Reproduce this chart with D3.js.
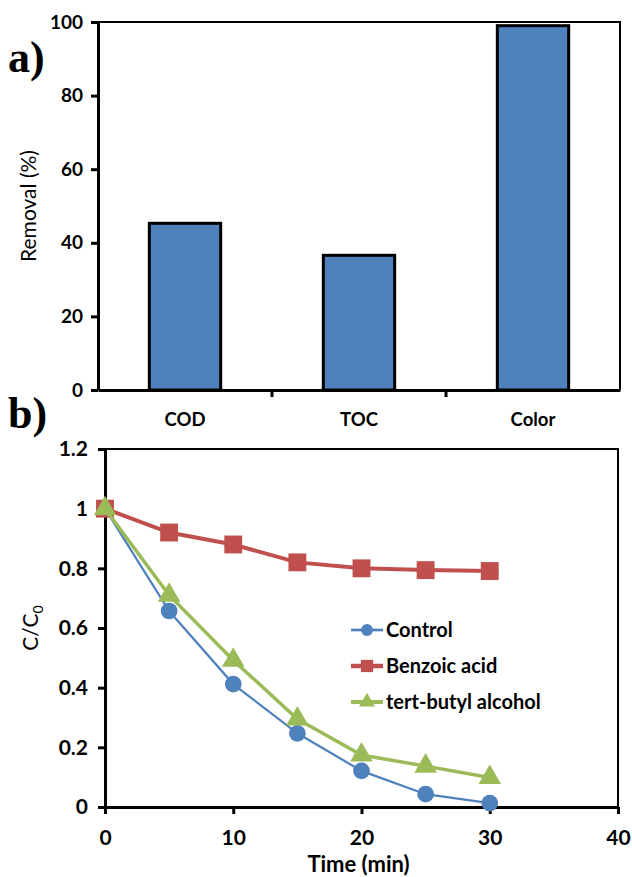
<!DOCTYPE html>
<html><head><meta charset="utf-8">
<script src="https://cdn.jsdelivr.net/npm/d3@7"></script>
<style>
body{margin:0;background:#fff;}
svg{display:block;}
</style></head>
<body><svg id="c" width="632" height="877"></svg>
<script>
// ---- data ----
const categories = ["COD", "TOC", "Color"];
const removal = [45.3, 36.6, 99.0];
const removalTicks = [0, 20, 40, 60, 80, 100];

const times = [0, 5, 10, 15, 20, 25, 30];
const control = [1, 0.657, 0.412, 0.247, 0.121, 0.043, 0.013];
const benzoic = [1, 0.92, 0.88, 0.82, 0.80, 0.794, 0.791];
const tba = [1, 0.71, 0.492, 0.295, 0.174, 0.137, 0.099];
const seriesNames = ["Control", "Benzoic acid", "tert-butyl alcohol"];
const timeTicks = [0, 10, 20, 30, 40];
const cTicks = [0, 0.2, 0.4, 0.6, 0.8, 1, 1.2];

const SANS = "Lato, 'Open Sans', sans-serif";
const SERIF = "'Liberation Serif', 'DejaVu Serif', serif";
const svg = d3.select("#c").style("font-family", SANS);
const blue = "#4F81BD", red = "#C0504D", green = "#9BBB59";

// ---- panel a ----
const ax = {l: 98, r: 620, t: 22, b: 390};
const xb = d3.scaleBand().domain(categories).range([ax.l, ax.r]).paddingInner(0.59).paddingOuter(0.295);
const xc = d3.scaleBand().domain(categories).range([ax.l, ax.r]);
const ya = d3.scaleLinear().domain([0, 100]).range([ax.b, ax.t]);

const ga = svg.append("g");
ga.selectAll("rect.bar").data(removal).join("rect")
  .attr("x", (d, i) => xb(categories[i])).attr("width", xb.bandwidth())
  .attr("y", d => ya(d)).attr("height", d => ya(0) - ya(d))
  .attr("fill", blue).attr("stroke", "#000").attr("stroke-width", 3);

ga.append("path").attr("d", `M${ax.l},${ax.t}H${ax.r}V${ax.b}`).attr("fill", "none").attr("stroke", "#000").attr("stroke-width", 2);

const yAxA = ga.append("g").attr("transform", `translate(${ax.l},0)`)
  .call(d3.axisLeft(ya).tickValues(removalTicks).tickSize(7).tickSizeOuter(0).tickPadding(8));
const xAxA = ga.append("g").attr("transform", `translate(0,${ax.b})`)
  .call(d3.axisBottom(xc).tickSize(0).tickSizeOuter(0).tickPadding(23));
ga.selectAll("line.bt").data(categories.slice(1)).join("line")
  .attr("x1", d => xc(d)).attr("x2", d => xc(d)).attr("y1", ax.b).attr("y2", ax.b + 7)
  .attr("stroke", "#000").attr("stroke-width", 3);

ga.append("text").attr("transform", `translate(36,${(ax.t + ax.b) / 2}) rotate(-90)`)
  .attr("text-anchor", "middle").attr("font-size", 21).text("Removal (%)");
ga.append("text").attr("x", 8).attr("y", 72).style("font-family", SERIF)
  .attr("font-weight", "bold").attr("font-size", 44).text("a)");

// ---- panel b ----
const bx = {l: 105, r: 618, t: 449, b: 807};
const xt = d3.scaleLinear().domain([0, 40]).range([bx.l, bx.r]);
const yc = d3.scaleLinear().domain([0, 1.2]).range([bx.b, bx.t]);
const gb = svg.append("g");
gb.append("path").attr("d", `M${bx.l},${bx.t}H${bx.r}V${bx.b}`).attr("fill", "none").attr("stroke", "#000").attr("stroke-width", 2);

const yAxB = gb.append("g").attr("transform", `translate(${bx.l},0)`)
  .call(d3.axisLeft(yc).tickValues(cTicks).tickFormat(d3.format("~g")).tickSize(7).tickSizeOuter(0).tickPadding(10));
const xAxB = gb.append("g").attr("transform", `translate(0,${bx.b})`)
  .call(d3.axisBottom(xt).tickValues(timeTicks).tickSize(7).tickSizeOuter(0).tickPadding(16));

const line = d3.line().x((d, i) => xt(times[i])).y(d => yc(d));
const series = [
  {name: seriesNames[0], vals: control, color: blue, w: 2.2, shape: "circle"},
  {name: seriesNames[1], vals: benzoic, color: red, w: 4, shape: "square"},
  {name: seriesNames[2], vals: tba, color: green, w: 3.5, shape: "triangle"}
];
const sym = {circle: d3.symbol(d3.symbolCircle, 220), square: d3.symbol(d3.symbolSquare, 320), triangle: d3.symbol(d3.symbolTriangle, 220)};
const legSym = {circle: d3.symbol(d3.symbolCircle, 110), square: d3.symbol(d3.symbolSquare, 150), triangle: d3.symbol(d3.symbolTriangle, 110)};

series.forEach(s => {
  gb.append("path").attr("d", line(s.vals)).attr("fill", "none").attr("stroke", s.color).attr("stroke-width", s.w);
  gb.selectAll(null).data(s.vals).join("path")
    .attr("transform", (d, i) => `translate(${xt(times[i])},${yc(d)})`)
    .attr("d", sym[s.shape]()).attr("fill", s.color);
});
const lg = gb.append("g");
series.forEach((s, i) => {
  const y = 630 + i * 36;
  lg.append("line").attr("x1", 351).attr("x2", 383).attr("y1", y).attr("y2", y).attr("stroke", s.color).attr("stroke-width", s.w + 0.5);
  lg.append("path").attr("transform", `translate(367,${y})`).attr("d", legSym[s.shape]()).attr("fill", s.color);
  lg.append("text").attr("x", 386).attr("y", y + 7).attr("font-weight", "bold").attr("font-size", 20).text(s.name);
});

const cl = gb.append("text").attr("transform", `translate(38,${(bx.t + bx.b) / 2}) rotate(-90)`)
  .attr("text-anchor", "middle").attr("font-size", 21);
cl.append("tspan").text("C/C");
cl.append("tspan").attr("font-size", 14).attr("dy", 5).text("0");
gb.append("text").attr("x", (bx.l + bx.r) / 2 - 3).attr("y", 872).attr("text-anchor", "middle")
  .attr("font-weight", "bold").attr("font-size", 22).text("Time (min)");
gb.append("text").attr("x", 8).attr("y", 428).style("font-family", SERIF)
  .attr("font-weight", "bold").attr("font-size", 44).text("b)");

// common axis styling
svg.selectAll(".domain").attr("stroke", "#000").attr("stroke-width", 3);
svg.selectAll(".tick line").attr("stroke", "#000").attr("stroke-width", 3);
svg.selectAll(".tick text").style("font-family", SANS).attr("font-weight", "bold").attr("fill", "#000");
yAxA.selectAll(".tick text").attr("font-size", 19);
xAxA.selectAll(".tick text").attr("font-size", 18.5);
yAxB.selectAll(".tick text").attr("font-size", 21);
xAxB.selectAll(".tick text").attr("font-size", 21);
</script></body></html>
